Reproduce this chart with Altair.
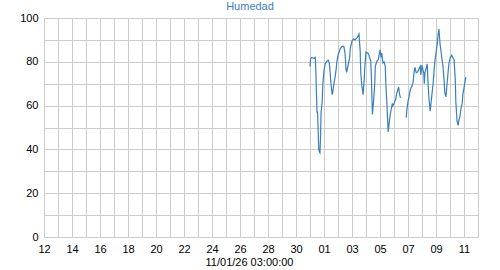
import altair as alt
import pandas as pd

# Hours since 2025-12-31 00:00 UTC, and relative humidity (%)
seg1_hours = [0, 1, 3, 7, 9, 10, 12, 13, 15, 16, 17, 18, 19, 21, 22, 24, 26, 28, 31, 33,
              34, 36, 38, 39, 41, 43, 45, 46, 48, 50, 52, 55, 58, 60, 62, 63, 65, 68, 69, 72,
              75, 77, 81, 84, 86, 87, 89, 91, 93, 94, 96, 99, 101, 104, 105, 107, 109, 111, 112, 115,
              117, 120, 122, 123, 125, 127, 129, 130, 132, 134, 135, 137, 139, 141, 142, 144, 147, 149, 152, 153,
              155]
seg1_values = [77.8, 81.4, 82, 81.5, 82, 76, 57, 57, 40, 39, 38.5, 45, 57, 62, 70, 76, 79, 80, 80.8, 79.5,
               77, 70, 65, 66, 70, 73, 77, 80, 83, 84.5, 86, 87, 87, 84, 76, 75.5, 78, 82, 86, 89.5,
               90.5, 90, 91, 92.7, 85, 75, 69, 65, 72, 78, 84.5, 84, 83, 80.5, 75, 56, 62, 70, 78, 80.5,
               81, 85.5, 82, 84, 79.5, 80, 78, 70, 60, 48, 50, 55, 58, 61, 60, 61, 63, 66, 68.5, 66,
               63.5]
seg2_hours = [165, 166, 168, 170, 171, 173, 175, 177, 178, 180, 182, 183, 185, 187, 189, 190, 192, 194, 195, 196,
              197, 199, 201, 202, 204, 206, 207, 209, 211, 213, 214, 216, 218, 219, 221, 223, 225, 226, 228, 230,
              231, 233, 235, 237, 238, 240, 243, 245, 247, 249, 250, 252, 254, 255, 257, 259, 261, 262, 264, 267]
seg2_values = [54.5, 58, 62, 64, 66, 68, 69, 71, 74.5, 77.5, 75, 75, 75.5, 77, 78, 74, 78.5, 76, 75, 70,
               75, 77, 79, 72, 63, 57.5, 60, 65, 70, 77, 80, 84, 88, 91, 95, 88, 84, 81.5, 78, 71,
               66, 64, 70, 76, 79, 81.5, 83, 82, 81, 72, 62, 53, 51, 53, 55, 59, 61, 65, 68, 73]

t0 = pd.Timestamp("2025-12-31T00:00:00", tz="UTC")
def ms(h):
    return int((t0 + pd.Timedelta(hours=h)).value // 10**6)

rows = []
for h, v in zip(seg1_hours, seg1_values):
    rows.append({"t": ms(h), "v": v, "seg": 1})
for h, v in zip(seg2_hours, seg2_values):
    rows.append({"t": ms(h), "v": v, "seg": 2})
df = pd.DataFrame(rows)

d0 = pd.Timestamp("2025-12-12T00:00:00", tz="UTC")
d1 = pd.Timestamp("2026-01-12T00:00:00", tz="UTC")
d0ms = int(d0.value // 10**6)
d1ms = int(d1.value // 10**6)
day_ticks = [d0ms + i * 86400000 for i in range(32)]

FONT = "Liberation Sans"
LINE = "#3a7fbd"
GRID = "#cccccc"

chart = alt.Chart(df).mark_line(color=LINE, strokeWidth=1.2).encode(
    x=alt.X("t:T",
            scale=alt.Scale(type="utc", domain=[d0ms, d1ms], nice=False),
            axis=alt.Axis(values=day_ticks,
                          labelExpr=f"round((datum.value - {d0ms}) / 86400000) % 2 == 0 ? utcFormat(datum.value, '%d') : ''",
                          title="11/01/26 03:00:00", grid=True, gridColor=GRID, domain=False, ticks=False,
                          labelPadding=6, labelFontSize=11, labelColor="black", labelFont=FONT,
                          labelFlush=False, labelOverlap=False,
                          titleFontSize=11, titleFontWeight="normal", titleFont=FONT, titleColor="black",
                          titleX=205, titleY=28, titleBaseline="alphabetic", titleAlign="center")),
    y=alt.Y("v:Q",
            scale=alt.Scale(domain=[0, 100], nice=False),
            axis=alt.Axis(values=list(range(0, 101, 10)),
                          labelExpr="datum.value % 20 == 0 ? datum.label : ''",
                          title="", grid=True, gridColor=GRID, domain=False, ticks=False,
                          labelPadding=6, labelFontSize=11, labelColor="black", labelFont=FONT)),
    detail="seg:N",
).properties(
    width=434, height=219,
    title=alt.TitleParams("Humedad", color=LINE, fontSize=11, fontWeight="normal", font=FONT,
                          anchor="middle", dx=-11, dy=16, offset=5, baseline="bottom"),
    autosize=alt.AutoSizeParams(type="none"),
    padding={"left": 44, "top": 18, "right": 22, "bottom": 33},
).configure_view(stroke=GRID)

chart.save("out.html", embed_options={"renderer": "svg", "actions": False})
